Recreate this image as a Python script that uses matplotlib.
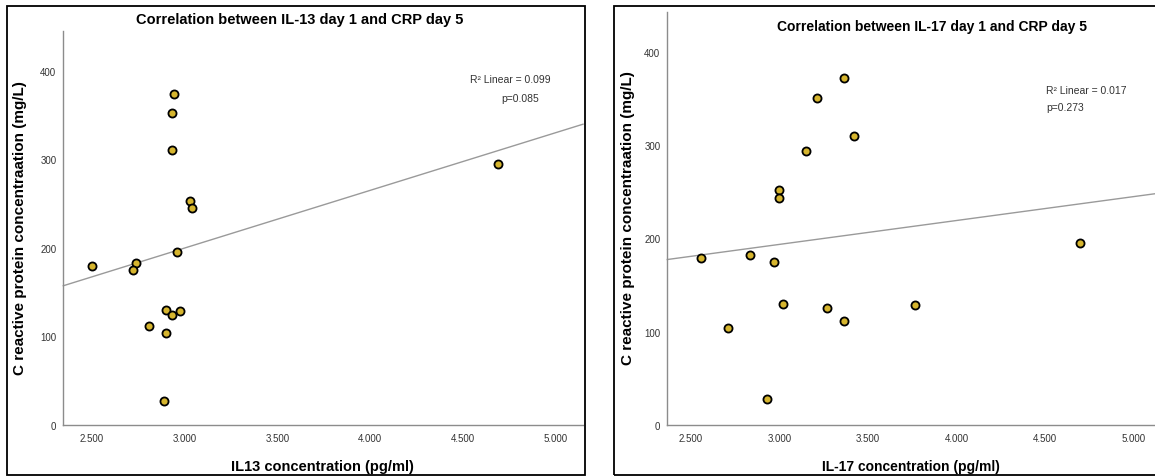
import matplotlib
matplotlib.use("Agg")
import matplotlib.pyplot as plt
import numpy as np
from matplotlib.patches import Rectangle
from matplotlib.ticker import FuncFormatter

# ---- data ----
il13_x = [2.943, 2.931, 2.931, 3.028, 3.042, 4.687, 2.500, 2.737, 2.721, 2.960,
          2.902, 2.931, 2.974, 2.807, 2.902, 2.888]
il13_crp = [373.9, 352.1, 310.7, 253.2, 244.9, 294.9, 179.5, 182.8, 175.3, 195.3,
            129.5, 124.5, 128.3, 111.4, 104.2, 26.7]

il17_x = [3.367, 3.214, 3.421, 3.148, 2.996, 2.996, 2.557, 2.832, 2.967, 3.022,
          3.271, 3.367, 2.707, 2.930, 3.765, 4.699]
il17_crp = [372.1, 350.4, 309.6, 293.6, 252.1, 243.2, 179.3, 182.1, 174.6, 129.3,
            125.4, 111.4, 104.3, 27.5, 128.3, 195.0]

x_ticks = [2.5, 3.0, 3.5, 4.0, 4.5, 5.0]
y_ticks = [0, 100, 200, 300, 400]

titles = ["Correlation between IL-13 day 1 and CRP day 5",
          "Correlation between IL-17 day 1 and CRP day 5"]
xlabels = ["IL13 concentration (pg/ml)", "IL-17 concentration (pg/ml)"]
ylabel = "C reactive protein concentraation (mg/L)"
r2_texts = ["R\u00b2 Linear = 0.099", "R\u00b2 Linear = 0.017"]
p_texts = ["p=0.085", "p=0.273"]

plt.rcParams['font.family'] = ['Liberation Sans', 'DejaVu Sans']

W, H = 1155, 477
fig = plt.figure(figsize=(W / 100, H / 100), dpi=100)
fig.patch.set_facecolor('white')

def fx(px):
    return px / W

def fy(py):
    return 1 - py / H

# panel frames
fig.add_artist(Rectangle((fx(7), fy(476)), fx(585 - 7), (476 - 7) / H,
                         transform=fig.transFigure, fill=False, ec='black', lw=1.3))
fig.add_artist(Rectangle((fx(614), fy(476)), fx(1170 - 614), (476 - 7) / H,
                         transform=fig.transFigure, fill=False, ec='black', lw=1.3))

ax1 = fig.add_axes([fx(63.3), fy(426), fx(583 - 63.3), (426 - 31.7) / H])
ax2 = fig.add_axes([fx(667.3), fy(426), fx(1157 - 667.3), (426 - 13.3) / H])

panels = [
    (ax1, il13_x, il13_crp, (2.347, 5.147), (0, 445)),
    (ax2, il17_x, il17_crp, (2.366, 5.134), (0, 442)),
]

marker_color = '#D6B52E'
for i, (ax, xs, ys, xl, yl) in enumerate(panels):
    ax.set_xlim(*xl)
    ax.set_ylim(*yl)
    for s in ['top', 'right']:
        ax.spines[s].set_visible(False)
    for s in ['left', 'bottom']:
        ax.spines[s].set_color('#8c8c8c')
        ax.spines[s].set_linewidth(1.0)
    ax.set_xticks(x_ticks)
    ax.set_yticks(y_ticks)
    ax.xaxis.set_major_formatter(FuncFormatter(lambda v, p: f"{v:.3f}"))
    ax.tick_params(length=0, labelsize=7, colors='#333333')
    ax.tick_params(axis='x', pad=6)
    ax.tick_params(axis='y', pad=5)
    ax.patch.set_alpha(0)
    # regression line
    slope, intercept = np.polyfit(xs, ys, 1)
    xx = np.array(xl)
    ax.plot(xx, intercept + slope * xx, color='#9a9a9a', lw=1.0, zorder=2, clip_on=False)
    ax.scatter(xs, ys, s=34, c=marker_color, edgecolors='black', linewidths=1.3, zorder=3)

# titles & labels (figure coords)
fig.text(fx(300), fy(20), titles[0], ha='center', va='center', fontsize=10.5, fontweight='bold')
fig.text(fx(932), fy(26.7), titles[1], ha='center', va='center', fontsize=10, fontweight='bold')
fig.text(fx(322), fy(467), xlabels[0], ha='center', va='center', fontsize=10.5, fontweight='bold')
fig.text(fx(910.5), fy(467), xlabels[1], ha='center', va='center', fontsize=10, fontweight='bold')
fig.text(fx(20), fy(228), ylabel, ha='center', va='center', rotation=90, fontsize=11, fontweight='bold')
fig.text(fx(628), fy(218), ylabel, ha='center', va='center', rotation=90, fontsize=11, fontweight='bold')

# annotations
fig.text(fx(470), fy(80), r2_texts[0], ha='left', va='center', fontsize=7.5, color='#333333')
fig.text(fx(520), fy(99), p_texts[0], ha='center', va='center', fontsize=7.5, color='#333333')
fig.text(fx(1045.7), fy(90.7), r2_texts[1], ha='left', va='center', fontsize=7.5, color='#333333')
fig.text(fx(1046.7), fy(108.3), p_texts[1], ha='left', va='center', fontsize=7.5, color='#333333')

fig.savefig('out.png', dpi=100, facecolor='white')
